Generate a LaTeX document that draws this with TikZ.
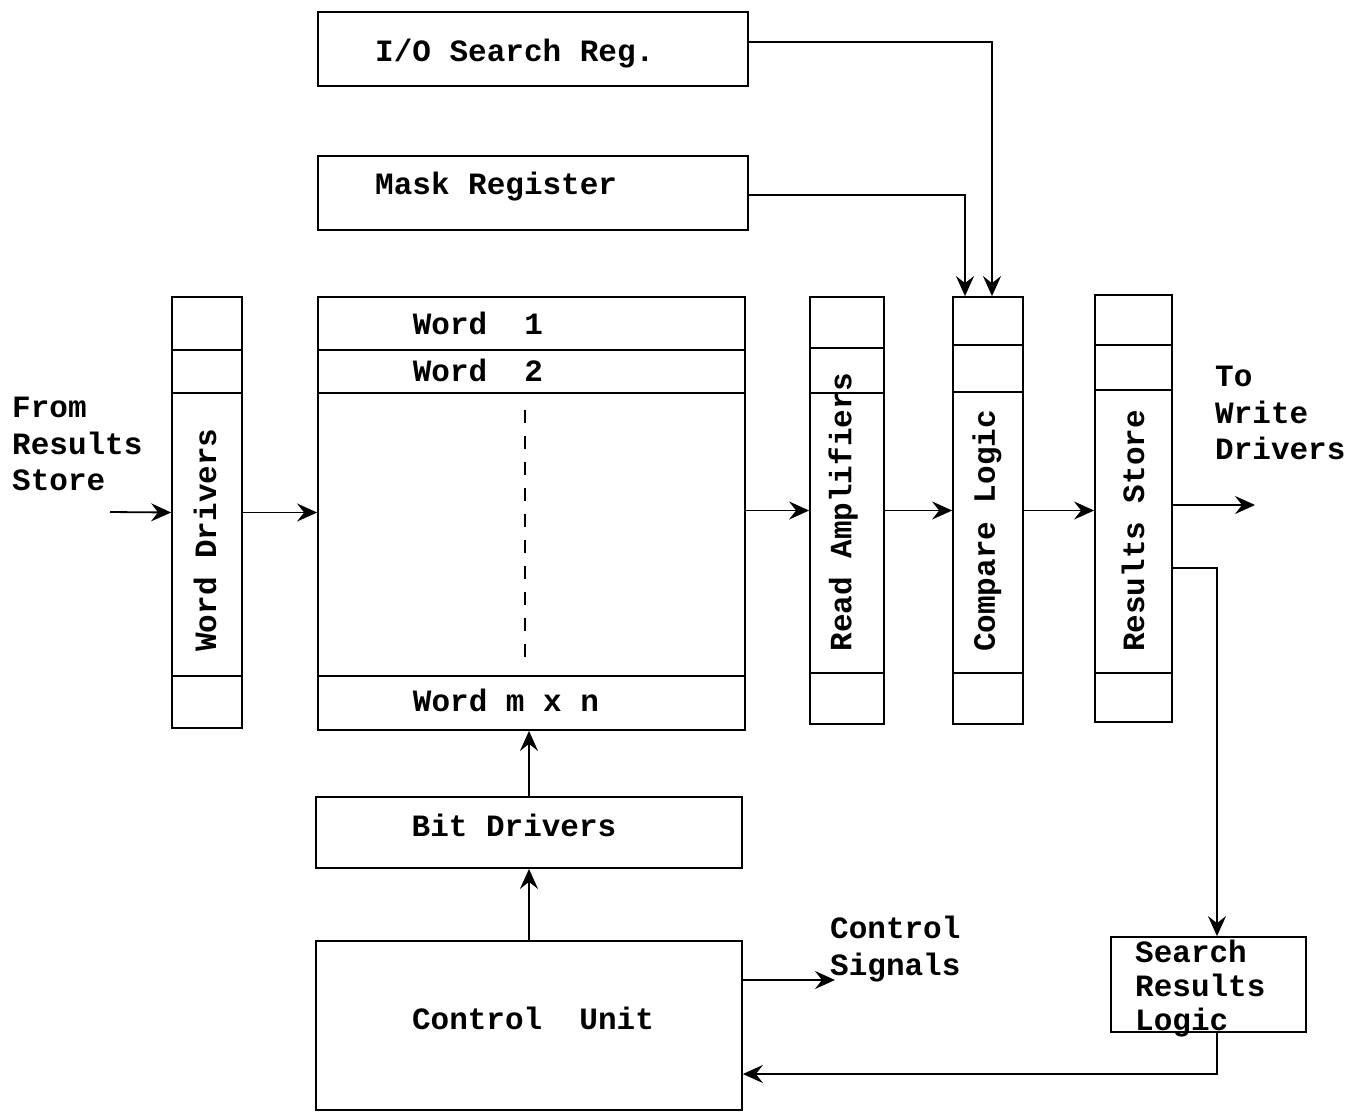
\documentclass[tikz,border=0pt]{standalone}
\usepackage{fontspec}
\newfontfamily\cour{Liberation Mono}
\usetikzlibrary{arrows.meta}
\begin{document}
\begin{tikzpicture}[x=1pt,y=-1pt,
  box/.style={draw, line width=1.8pt, inner sep=0pt},
  txt/.style={font=\cour\bfseries\fontsize{31}{36.5}\selectfont, inner sep=0pt},
  arr/.style={line width=1.8pt, -{Stealth[length=20pt,width=18pt,inset=7pt]}},
  divider/.style={line width=1.8pt}]
\useasboundingbox (0,0) rectangle (1366,1112);
% boxes
\node[box, minimum width=430pt, minimum height=74pt] (io) at (533,49) {};
\node[box, minimum width=430pt, minimum height=74pt] (mask) at (533,193) {};
\node[box, minimum width=70pt, minimum height=431pt] (wd) at (207,512.5) {};
\node[box, minimum width=427pt, minimum height=433pt] (mem) at (531.5,513.5) {};
\node[box, minimum width=74pt, minimum height=427pt] (ra) at (847,510.5) {};
\node[box, minimum width=70pt, minimum height=427pt] (cl) at (988,510.5) {};
\node[box, minimum width=77pt, minimum height=427pt] (rs) at (1133.5,508.5) {};
\node[box, minimum width=426pt, minimum height=71pt] (bd) at (529,832.5) {};
\node[box, minimum width=426pt, minimum height=169pt] (cu) at (529,1025.5) {};
\node[box, minimum width=195pt, minimum height=95pt] (srl) at (1208.5,984.5) {};
% dividers
\foreach \n/\a/\b/\c in {wd/350/393/676, mem/350/393/676, ra/348/393/673, cl/345/392/673, rs/345/390/673}{
  \draw[divider] (\n.west |- 0,\a) -- (\n.east |- 0,\a);
  \draw[divider] (\n.west |- 0,\b) -- (\n.east |- 0,\b);
  \draw[divider] (\n.west |- 0,\c) -- (\n.east |- 0,\c);
}
\draw[line width=1.8pt, dash pattern=on 13pt off 13pt] (525,410) -- (525,665);
% texts
\node[txt, anchor=west] (iot) at (375,54) {I/O Search Reg.};
\node[txt, anchor=west] (maskt) at (375,187) {Mask Register};
\node[txt, rotate=90] (wdt) at (205,540) {Word Drivers};
\node[txt] (w1) at (478,323) {Word\ \ 1};
\node[txt] (w2) at (478,370) {Word\ \ 2};
\node[txt] (wmn) at (506,700) {Word m x n};
\node[txt, rotate=90] (rat) at (843,512) {Read Amplifiers};
\node[txt, rotate=90] (clt) at (987,531) {Compare Logic};
\node[txt, rotate=90] (rst) at (1133,531) {Results Store};
\node[txt] (bdt) at (514,825) {Bit Drivers};
\node[txt] (cut) at (533,1018) {Control\ \ Unit};
\node[txt, anchor=west, align=left] (from) at (12,444) {From\\Results\\Store};
\node[txt, anchor=west, align=left] (towd) at (1215,413) {To\\Write\\Drivers};
\node[txt, anchor=west, align=left] (cst) at (830,949) {Control\\Signals};
\node[txt, anchor=west, align=left, font=\cour\bfseries\fontsize{31}{34}\selectfont] (srlt) at (1135,989) {Search\\Results\\Logic};
% free ends
\coordinate (fr) at (110,512);
\coordinate (tw) at (1255,505);
\coordinate (cs) at (835,980);
% connectors
\draw[arr] (fr) -- (wd.west);
\draw[arr] (wd.east) -- (mem.west |- wd.east);
\draw[arr] (mem.east |- ra.west) -- (ra.west);
\draw[arr] (ra.east) -- (cl.west);
\draw[arr] (cl.east) -- (rs.west |- cl.east);
\draw[arr] (rs.east |- tw) -- (tw);
\draw[arr] (io.east |- 0,42) -| ([xshift=4pt]cl.north);
\draw[arr] (mask.east |- 0,195) -| ([xshift=-23pt]cl.north);
\draw[arr] (rs.east |- 0,568) -| ([xshift=8.5pt]srl.north);
\draw[arr] ([xshift=8.5pt]srl.south) |- (cu.east |- 0,1074);
\draw[arr] (cu.north) -- (bd.south);
\draw[arr] (bd.north) -- (mem.south -| bd.north);
\draw[arr] (cu.east |- cs) -- (cs);
\end{tikzpicture}
\end{document}
